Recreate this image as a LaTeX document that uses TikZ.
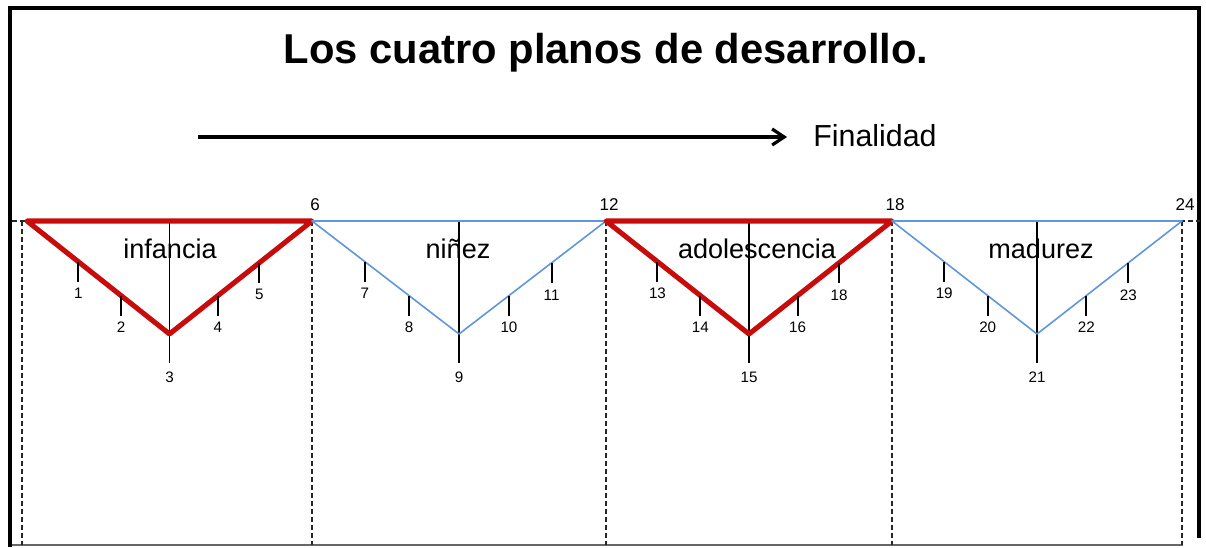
\documentclass[tikz,border=0pt]{standalone}
\usepackage{fontspec}
\setmainfont{Liberation Sans}
\usetikzlibrary{calc,arrows.meta}
\definecolor{redline}{RGB}{200,12,12}
\definecolor{blueline}{RGB}{95,150,220}
\begin{document}
\begin{tikzpicture}[x=0.75pt,y=-0.75pt,
  frame/.style={draw=black, line width=2.4pt},
  bottomline/.style={draw=gray!80!black, line width=2.2pt},
  dashline/.style={draw=black!85, line width=1.1pt, dash pattern=on 3.5pt off 2.5pt},
  axis/.style={draw=black, line width=1.2pt},
  redtri/.style={draw=redline, line width=3.8pt, line join=round},
  bluetri/.style={draw=blueline, line width=1.2pt, line join=round},
  tickmark/.style={draw=black, line width=1.5pt},
  ticklab/.style={inner sep=0pt, font=\fontsize{11.4}{13}\selectfont},
  toplab/.style={inner sep=0pt, font=\fontsize{12.8}{15}\selectfont},
  planelab/.style={inner sep=0pt, anchor=base, font=\fontsize{20.3}{24}\selectfont},
  title/.style={inner sep=0pt, anchor=base, font=\bfseries\fontsize{31.3}{36}\selectfont},
  finlab/.style={inner sep=0pt, anchor=base west, font=\fontsize{22.8}{27}\selectfont},
  flow/.style={draw=black, line width=2.4pt, -{Straight Barb[length=9pt,width=12pt,line width=2.4pt]}}
]
\useasboundingbox (0,0) rectangle (1206,547);
% frame
\coordinate (f1) at (10,547);
\coordinate (f2) at (10,8);
\coordinate (f3) at (1199,8);
\coordinate (f4) at (1199,538);
\coordinate (g1) at (12,545);
\coordinate (g2) at (1183,545);
\draw[frame] (f1) -- (f2) -- (f3) -- (f4);
\draw[bottomline] (g1) -- (g2);
% title
\node[title] (title) at (606,63) {Los cuatro planos de desarrollo.};
% arrow
\coordinate (a0) at (198,137);
\coordinate (a1) at (787,137);
\draw[flow] (a0) -- (a1);
\node[finlab] (fin) at (813,146) {Finalidad};
% dashed baseline and verticals
\coordinate (h0) at (12,221);
\coordinate (h1) at (1200,221);
\draw[dashline] (h0) -- (h1);
\foreach \k/\x in {0/22,1/312,2/606,3/892,4/1182}{
  \coordinate (vt\k) at (\x,221);
  \coordinate (vb\k) at (\x,545);
  \draw[dashline] (vt\k) -- (vb\k);
}
% triangles
\foreach \i/\l/\r/\col/\na/\nb/\nc/\nd/\ne/\top/\name/\lx in {
  1/27/312/redtri/1/2/3/4/5/6/infancia/170,
  2/312/606/bluetri/7/8/9/10/11/12/niñez/458,
  3/606/892/redtri/13/14/15/16/18/18/adolescencia/757,
  4/892/1182/bluetri/19/20/21/22/23/24/madurez/1041}{
  \coordinate (L\i) at (\l,221);
  \coordinate (R\i) at (\r,221);
  \coordinate (A\i) at ({(\l+\r)/2},334);
  \coordinate (T\i) at ({(\l+\r)/2},221);
  \coordinate (B\i) at ({(\l+\r)/2},363);
  \draw[axis] (T\i) -- (B\i);
  \draw[\col] (L\i) -- (A\i) -- (R\i) -- cycle;
  % ticks on the sides
  \coordinate (p\i a) at ($(L\i)!0.36!(A\i)$);
  \coordinate (p\i b) at ($(L\i)!0.66!(A\i)$);
  \coordinate (p\i d) at ($(A\i)!0.34!(R\i)$);
  \coordinate (p\i e) at ($(A\i)!0.63!(R\i)$);
  \foreach \s in {a,b,d,e}{
    \coordinate (q\i\s) at ($(p\i\s)+(0,20)$);
    \draw[tickmark] (p\i\s) -- (q\i\s);
  }
  \node[ticklab] (n\na) at ($(q\i a)+(0,12)$) {\na};
  \node[ticklab] (n\nb) at ($(q\i b)+(0,12)$) {\nb};
  \node[ticklab] (n\nc) at ($(B\i)+(0,14)$) {\nc};
  \node[ticklab] (m\nd) at ($(q\i d)+(0,12)$) {\nd};
  \node[ticklab] (m\ne) at ($(q\i e)+(0,12)$) {\ne};
  \node[toplab] (top\i) at ($(R\i)+(3,-16)$) {\top};
  \node[planelab] (plane\i) at (\lx,258) {\name};
}
\end{tikzpicture}
\end{document}
